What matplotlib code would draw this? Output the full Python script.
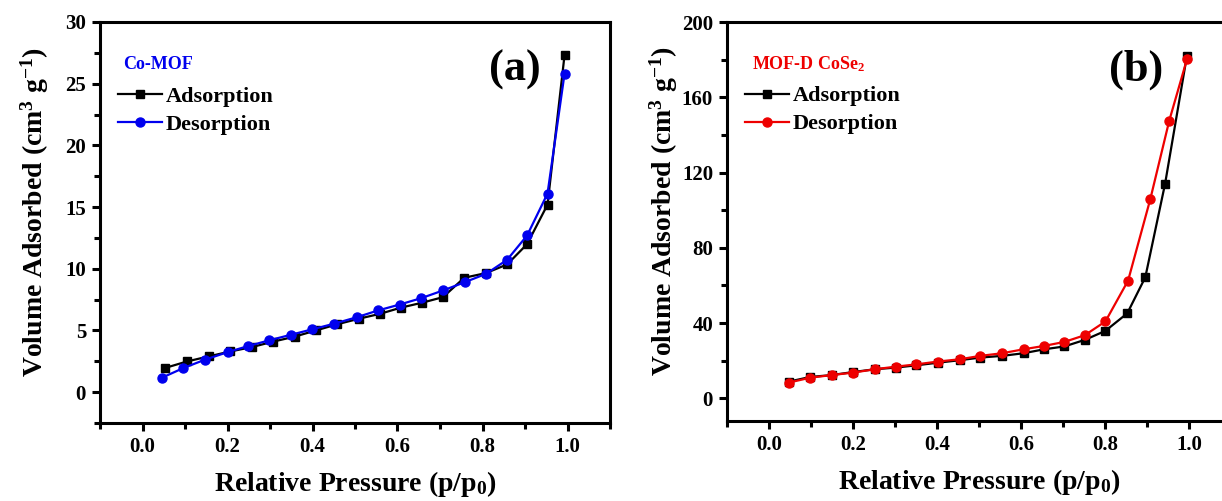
import matplotlib
matplotlib.use("Agg")
import matplotlib.pyplot as plt

plt.rcParams["font.family"] = ["Liberation Serif", "DejaVu Serif"]
plt.rcParams["font.weight"] = "bold"
plt.rcParams["mathtext.fontset"] = "custom"
plt.rcParams["mathtext.rm"] = "Liberation Serif:bold"
plt.rcParams["mathtext.it"] = "Liberation Serif:bold"
plt.rcParams["mathtext.bf"] = "Liberation Serif:bold"

# Panel (a): Co-MOF isotherm
a_ads_p = [0.054, 0.105, 0.156, 0.207, 0.257, 0.308, 0.358, 0.408, 0.458, 0.509,
           0.559, 0.608, 0.658, 0.707, 0.757, 0.808, 0.858, 0.905, 0.953, 0.993]
a_ads_v = [1.97, 2.49, 2.90, 3.30, 3.65, 4.10, 4.50, 5.00, 5.50, 5.95,
           6.35, 6.85, 7.25, 7.70, 9.27, 9.65, 10.35, 12.0, 15.2, 27.3]
a_des_p = [0.045, 0.096, 0.146, 0.200, 0.248, 0.297, 0.349, 0.398, 0.450, 0.505,
           0.554, 0.605, 0.656, 0.707, 0.759, 0.809, 0.858, 0.905, 0.953, 0.993]
a_des_v = [1.16, 1.95, 2.62, 3.24, 3.73, 4.19, 4.65, 5.08, 5.54, 6.08,
           6.62, 7.10, 7.62, 8.24, 8.92, 9.60, 10.73, 12.7, 16.1, 25.8]

# Panel (b): MOF-derived CoSe2 isotherm
b_ads_p = [0.047, 0.098, 0.149, 0.200, 0.252, 0.303, 0.351, 0.403, 0.454, 0.503,
           0.555, 0.606, 0.655, 0.703, 0.752, 0.801, 0.853, 0.896, 0.943, 0.995]
b_ads_v = [8.9, 11.4, 12.4, 14.0, 15.5, 16.4, 17.6, 19.0, 20.3, 21.7,
           22.6, 24.0, 26.1, 27.6, 31.1, 35.9, 45.2, 64.4, 114.0, 182.0]
b_des_p = [0.047, 0.098, 0.149, 0.200, 0.252, 0.303, 0.351, 0.403, 0.454, 0.503,
           0.555, 0.606, 0.655, 0.703, 0.752, 0.801, 0.855, 0.908, 0.953, 0.995]
b_des_v = [8.4, 11.0, 12.4, 13.7, 15.5, 16.9, 18.1, 19.6, 20.8, 22.6,
           24.0, 26.1, 27.9, 30.0, 33.6, 40.9, 62.6, 106.0, 147.6, 180.1]

x_ticks = [0.0, 0.2, 0.4, 0.6, 0.8, 1.0]
a_y_ticks = [0, 5, 10, 15, 20, 25, 30]
b_y_ticks = [0, 40, 80, 120, 160, 200]

W, H = 1222, 501
fig = plt.figure(figsize=(W / 100, H / 100), dpi=100)


def px_axes(left, right, top, bottom):
    return fig.add_axes([left / W, 1 - bottom / H, (right - left) / W, (bottom - top) / H])


def style(ax, yticks, yminor, ylim, ylabel_x):
    ax.set_xlim(-0.1, 1.1)
    ax.set_ylim(*ylim)
    ax.set_xticks(x_ticks)
    ax.set_xticks([-0.1 + 0.2 * i for i in range(7)], minor=True)
    ax.set_xticklabels([f"{t:.1f}" for t in x_ticks])
    ax.set_yticks(yticks)
    ax.set_yticks(yminor, minor=True)
    for s in ax.spines.values():
        s.set_linewidth(2.2)
    ax.tick_params(which="major", direction="out", length=6, width=2.2,
                   labelsize=15, top=False, right=False, pad=4)
    ax.tick_params(which="minor", direction="out", length=4, width=2.2,
                   top=False, right=False)
    for lab in ax.get_xticklabels() + ax.get_yticklabels():
        lab.set_fontweight("bold")
    ax.set_xlabel("Relative Pressure (p/p$_0$)", fontsize=20, fontweight="bold", labelpad=9)
    ax.set_ylabel("Volume Adsorbed (cm$^3$ g$^{-1}$)", fontsize=20, fontweight="bold")
    ax.yaxis.set_label_coords(ylabel_x, 0.525)


def add_legend(ax, x0):
    ax.legend(loc="upper left", bbox_to_anchor=(x0, 0.84), frameon=False,
              fontsize=16, handlelength=2.0, handletextpad=0.15, labelspacing=0.33,
              borderaxespad=0, borderpad=0)


# ---- (a) ----
ax1 = px_axes(100, 610, 22, 423)
ax1.plot(a_ads_p, a_ads_v, "-s", color="black", lw=1.6, ms=6, label="Adsorption")
ax1.plot(a_des_p, a_des_v, "-o", color="#0000ee", lw=1.6, ms=6.5, label="Desorption")
style(ax1, a_y_ticks, [-2.5 + 5 * i for i in range(7)], (-2.5, 30), -0.097)
ax1.text(0.045, 0.895, "Co-MOF", transform=ax1.transAxes, color="#0000ee",
         fontsize=13, fontweight="bold", va="center")
ax1.text(0.865, 0.88, "(a)", transform=ax1.transAxes, fontsize=32,
         fontweight="bold", ha="right", va="center")
add_legend(ax1, 0.035)

# ---- (b) ----
ax2 = px_axes(727, 1231, 22, 421)
ax2.plot(b_ads_p, b_ads_v, "-s", color="black", lw=1.6, ms=6, label="Adsorption")
ax2.plot(b_des_p, b_des_v, "-o", color="#ee0000", lw=1.6, ms=6.5, label="Desorption")
style(ax2, b_y_ticks, [20 + 40 * i for i in range(5)], (-12, 200), -0.093)
ax2.text(0.05, 0.895, "MOF-D CoSe$_2$", transform=ax2.transAxes, color="#ee0000",
         fontsize=13, fontweight="bold", va="center")
ax2.text(0.865, 0.88, "(b)", transform=ax2.transAxes, fontsize=32,
         fontweight="bold", ha="right", va="center")
add_legend(ax2, 0.035)

fig.savefig("out.png", dpi=100)
